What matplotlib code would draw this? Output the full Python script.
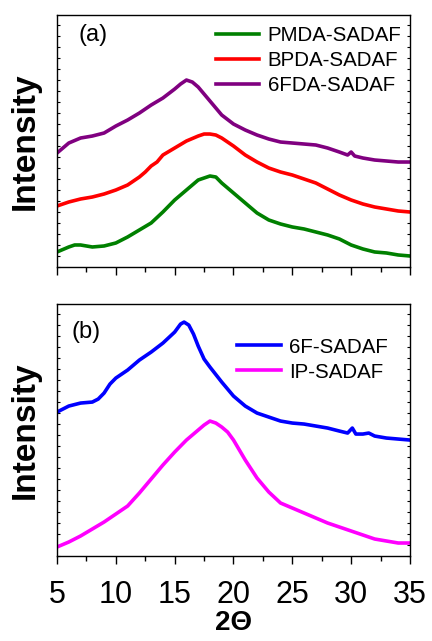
import numpy as np
import matplotlib
matplotlib.use('Agg')
import matplotlib.pyplot as plt
from matplotlib.ticker import MultipleLocator

plt.rcParams['font.family'] = ['Liberation Sans', 'DejaVu Sans']

# panel (a), arbitrary intensity units
x_pmda = [5, 6, 6.5, 7, 8, 9, 10, 11, 12, 13, 14, 15, 16, 17, 17.5, 18, 18.5, 19, 20,
          21, 22, 23, 24, 25, 26, 27, 28, 29, 30, 31, 32, 33, 34, 35]
y_pmda = [15, 20, 22, 22, 20, 21, 24, 30, 37, 44, 55, 67, 77, 87, 89, 91, 90, 84, 74,
          64, 54, 47, 43, 40, 38, 35, 32, 28, 22, 18, 15, 14, 12, 11]

x_bpda = [5, 6, 7, 8, 9, 10, 11, 12, 12.5, 13, 13.5, 14, 15, 16, 17, 17.5, 18, 18.5, 19,
          20, 21, 22, 23, 24, 25, 26, 27, 28, 29, 30, 31, 32, 33, 34, 35]
y_bpda = [61, 65, 68, 70, 73, 77, 82, 90, 95, 101, 105, 112, 119, 126, 131, 133, 133, 132, 129,
          121, 112, 105, 99, 95, 92, 88, 84, 78, 72, 67, 63, 60, 58, 56, 55]

x_6fda = [5, 6, 7, 8, 9, 10, 11, 12, 13, 14, 15, 15.5, 16, 16.5, 17, 17.5, 18, 19, 20,
          21, 22, 23, 24, 25, 26, 27, 28, 29, 29.7, 30, 30.3, 31, 32, 33, 34, 35]
y_6fda = [114, 124, 129, 131, 134, 141, 147, 154, 162, 169, 178, 183, 187, 185, 180, 173, 166, 152, 143,
          137, 132, 128, 125, 124, 123, 122, 119, 115, 112, 115, 111, 109, 107, 106, 105, 105]

# panel (b)
x_6f = [5, 6, 7, 8, 8.5, 9, 9.5, 10, 11, 12, 13, 14, 15, 15.5, 15.8, 16.2, 16.6, 17, 17.5, 18, 19,
        20, 21, 22, 23, 24, 25, 26, 27, 28, 29, 29.7, 30.1, 30.4, 31, 31.5, 32, 33, 34, 35]
y_6f = [144, 150, 153, 154, 157, 163, 172, 178, 186, 196, 204, 213, 224, 232, 234, 231, 222, 210, 197, 189, 174,
        160, 150, 143, 139, 135, 133, 132, 130, 128, 125, 123, 128, 122, 122, 123, 120, 118, 117, 116]

x_ip = [5, 6, 7, 8, 9, 10, 11, 12, 13, 14, 15, 16, 17, 17.5, 18, 18.5, 19, 19.5, 20, 20.5,
        21, 22, 23, 24, 25, 26, 27, 28, 29, 30, 31, 32, 33, 34, 35]
y_ip = [9, 14, 20, 27, 34, 42, 50, 63, 77, 91, 104, 116, 126, 131, 135, 133, 129, 124, 116, 106,
        96, 78, 64, 53, 48, 43, 38, 33, 29, 25, 21, 17, 15, 13, 13]

fig = plt.figure(figsize=(4.32, 6.41), dpi=100)
ax1 = fig.add_axes([0.132, 0.5835, 0.817, 0.393])
ax2 = fig.add_axes([0.132, 0.1326, 0.817, 0.393])

ax1.plot(x_pmda, y_pmda, color='#008000', lw=2.6, label='PMDA-SADAF')
ax1.plot(x_bpda, y_bpda, color='#ff0000', lw=2.6, label='BPDA-SADAF')
ax1.plot(x_6fda, y_6fda, color='#800080', lw=2.6, label='6FDA-SADAF')

ax2.plot(x_6f, y_6f, color='#0000ff', lw=2.6, label='6F-SADAF')
ax2.plot(x_ip, y_ip, color='#ff00ff', lw=2.6, label='IP-SADAF')

for ax in (ax1, ax2):
    ax.set_xlim(5, 35)
    ax.set_ylim(0, 252)
    ax.xaxis.set_major_locator(MultipleLocator(5))
    ax.xaxis.set_minor_locator(MultipleLocator(2.5))
    ax.yaxis.set_major_locator(MultipleLocator(11))
    ax.tick_params(axis='x', which='major', direction='out', length=6, width=1, top=False)
    ax.tick_params(axis='x', which='minor', direction='out', length=3.5, width=1, top=False)
    ax.tick_params(axis='y', which='major', direction='in', length=2, width=0.8,
                   left=True, right=True, labelleft=False)
    ax.set_ylabel('Intensity', fontsize=24, fontweight='bold', labelpad=12)
    for s in ax.spines.values():
        s.set_linewidth(1)

leg_kw = dict(frameon=False, fontsize=14.8, handlelength=2.1, handletextpad=0.4,
              labelspacing=0.3, borderaxespad=0)
ax1.legend(loc='upper right', bbox_to_anchor=(0.999, 0.99), **leg_kw)
ax2.legend(loc='upper right', bbox_to_anchor=(0.96, 0.9), **leg_kw)

ax1.tick_params(axis='x', labelbottom=False)
ax2.tick_params(axis='x', labelsize=22, pad=11)
ax2.set_xlabel('2Θ', fontsize=20, fontweight='bold', labelpad=0)

ax1.text(0.06, 0.92, '(a)', transform=ax1.transAxes, fontsize=17, va='center')
ax2.text(0.04, 0.89, '(b)', transform=ax2.transAxes, fontsize=17, va='center')

fig.savefig('out.png', dpi=100)
